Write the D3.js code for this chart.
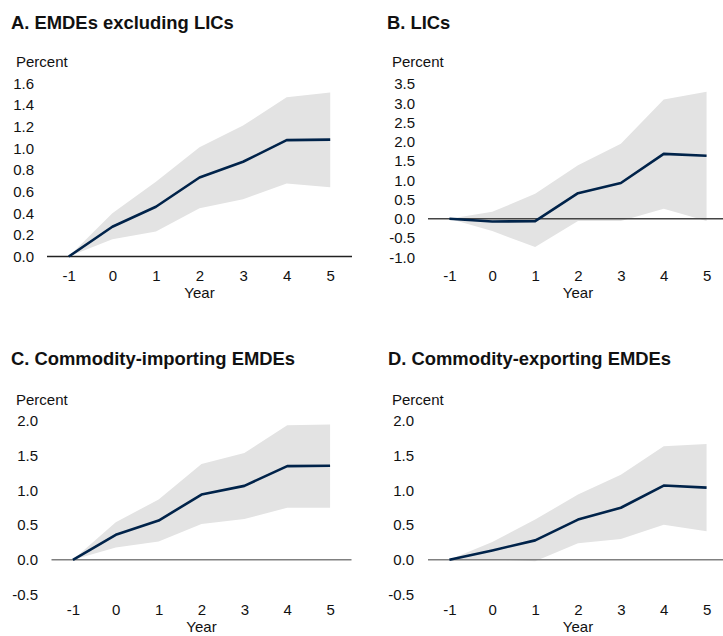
<!DOCTYPE html>
<html>
<head>
<meta charset="utf-8">
<script src="https://cdn.jsdelivr.net/npm/d3@7"></script>
<style>
  body { margin: 0; background: #fff; }
  text { font-family: Arial, "Liberation Sans", sans-serif; fill: #111; }
</style>
</head>
<body>
<div id="chart"></div>
<script>
// years after the shock
var years = [-1, 0, 1, 2, 3, 4, 5];

// A. EMDEs excluding LICs
var aMid = [0, 0.275, 0.46, 0.73, 0.875, 1.075, 1.08],
    aHi  = [0, 0.40, 0.69, 1.01, 1.21, 1.47, 1.515],
    aLo  = [0, 0.16, 0.23, 0.445, 0.53, 0.675, 0.64],
    aTicks = [0, 0.2, 0.4, 0.6, 0.8, 1.0, 1.2, 1.4, 1.6];

// B. LICs
var bMid = [0, -0.07, -0.06, 0.665, 0.93, 1.685, 1.635],
    bHi  = [0, 0.18, 0.65, 1.39, 1.95, 3.10, 3.30],
    bLo  = [0, -0.32, -0.735, -0.06, -0.06, 0.26, -0.06],
    bTicks = [-1.0, -0.5, 0, 0.5, 1.0, 1.5, 2.0, 2.5, 3.0, 3.5];

// C. Commodity-importing EMDEs
var cMid = [0, 0.36, 0.565, 0.94, 1.065, 1.35, 1.355],
    cHi  = [0, 0.54, 0.87, 1.38, 1.54, 1.94, 1.95],
    cLo  = [0, 0.177, 0.263, 0.517, 0.588, 0.75, 0.75],
    cTicks = [-0.5, 0, 0.5, 1.0, 1.5, 2.0];

// D. Commodity-exporting EMDEs
var dMid = [0, 0.135, 0.28, 0.58, 0.75, 1.07, 1.04],
    dHi  = [0, 0.255, 0.58, 0.94, 1.225, 1.635, 1.67],
    dLo  = [0, 0.005, -0.02, 0.24, 0.30, 0.505, 0.41],
    dTicks = [-0.5, 0, 0.5, 1.0, 1.5, 2.0];

var w = 723, h = 636,
    svg = d3.select("#chart")
            .append("svg")
            .attr("width", w)
            .attr("height", h);

// plain hyphen for negatives, like the original
var fmtY = function(d) { return d3.format(".1f")(d).replace("\u2212", "-"); },
    fmtX = function(d) { return d3.format("d")(d).replace("\u2212", "-"); };

function render_panel(p) {
    var x = d3.scaleLinear().domain([-1.5, 5.5]).range(p.xr),
        y = d3.scaleLinear().domain(p.yd).range(p.yr),
        rows = years.map(function(yr, i) {
            return {year: yr, mid: p.mid[i], hi: p.hi[i], lo: p.lo[i]};
        });

    // title
    svg.append("text")
        .attr("x", p.tx)
        .attr("y", p.ty)
        .attr("font-size", "18.4px")
        .attr("font-weight", "bold")
        .text(p.title);

    // unit label
    svg.append("text")
        .attr("x", p.px)
        .attr("y", p.py)
        .attr("font-size", "15px")
        .text("Percent");

    // confidence band
    var area = d3.area()
        .x(function(d) { return x(d.year); })
        .y0(function(d) { return y(d.lo); })
        .y1(function(d) { return y(d.hi); });

    svg.append("path")
        .datum(rows)
        .attr("fill", "#e3e3e3")
        .attr("d", area);

    // y axis labels, no line
    var ya = svg.append("g")
        .attr("transform", "translate(" + p.lx + ",0)")
        .call(d3.axisLeft(y).tickValues(p.ticks).tickFormat(fmtY).tickSize(0).tickPadding(0));
    ya.select(".domain").remove();
    ya.selectAll("text")
        .attr("font-size", "15px")
        .attr("font-family", "Arial, 'Liberation Sans', sans-serif")
        .attr("fill", "#111");

    // zero line
    svg.append("line")
        .attr("x1", p.xr[0])
        .attr("x2", Math.min(p.xr[1], w))
        .attr("y1", y(0))
        .attr("y2", y(0))
        .attr("stroke", p.zc)
        .attr("stroke-width", 1.5);

    // x axis labels
    var xa = svg.append("g")
        .attr("transform", "translate(0," + p.xy + ")")
        .call(d3.axisBottom(x).tickValues(years).tickFormat(fmtX).tickSize(0).tickPadding(0));
    xa.select(".domain").remove();
    xa.selectAll("text")
        .attr("dy", 0)
        .attr("font-size", "15px")
        .attr("font-family", "Arial, 'Liberation Sans', sans-serif")
        .attr("fill", "#111");

    svg.append("text")
        .attr("x", x(2))
        .attr("y", p.xy + 17)
        .attr("text-anchor", "middle")
        .attr("font-size", "15px")
        .text("Year");

    // central estimate
    var line = d3.line()
        .x(function(d) { return x(d.year); })
        .y(function(d) { return y(d.mid); });

    svg.append("path")
        .datum(rows)
        .attr("fill", "none")
        .attr("stroke", "#00234a")
        .attr("stroke-width", 2.6)
        .attr("stroke-linejoin", "round")
        .attr("d", line);
}

render_panel({title: "A. EMDEs excluding LICs", tx: 11, ty: 29, px: 16, py: 67,
    xr: [47, 352], yd: [0, 1.6], yr: [256.5, 83.3], lx: 34, xy: 281,
    mid: aMid, hi: aHi, lo: aLo, ticks: aTicks, zc: "#222"});

render_panel({title: "B. LICs", tx: 387, ty: 28.5, px: 392, py: 67,
    xr: [428, 728], yd: [-1, 3.5], yr: [257.3, 84], lx: 415, xy: 281,
    mid: bMid, hi: bHi, lo: bLo, ticks: bTicks, zc: "#444"});

render_panel({title: "C. Commodity-importing EMDEs", tx: 11, ty: 365, px: 16, py: 405,
    xr: [51.5, 351.5], yd: [-0.5, 2.0], yr: [594.5, 421], lx: 38, xy: 615,
    mid: cMid, hi: cHi, lo: cLo, ticks: cTicks, zc: "#808080"});

render_panel({title: "D. Commodity-exporting EMDEs", tx: 388, ty: 365, px: 392, py: 405,
    xr: [428, 728], yd: [-0.5, 2.0], yr: [594.5, 421], lx: 414, xy: 615,
    mid: dMid, hi: dHi, lo: dLo, ticks: dTicks, zc: "#808080"});
</script>
</body>
</html>
